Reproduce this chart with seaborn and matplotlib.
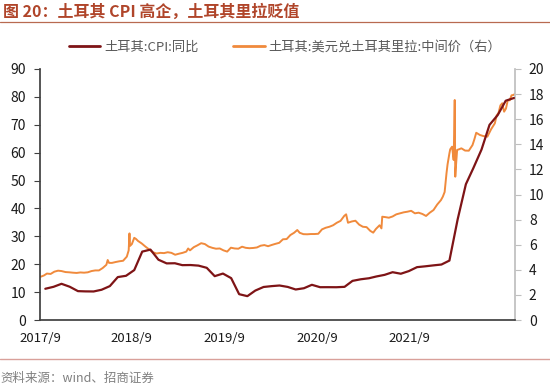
import matplotlib
matplotlib.use('Agg')
import matplotlib.pyplot as plt
import pandas as pd
import seaborn as sns
from matplotlib.lines import Line2D

# Turkey CPI YoY (%), month-end
cpi_dates = pd.date_range('2017-09-30', '2022-07-31', freq='ME')
cpi_values = [11.20, 11.90, 12.98, 11.92,
              10.35, 10.26, 10.23, 10.85, 12.15, 15.39, 15.85, 17.90, 24.52, 25.24, 21.62, 20.30,
              20.35, 19.67, 19.71, 19.50, 18.71, 15.72, 16.65, 15.01, 9.26, 8.55, 10.56, 11.84,
              12.15, 12.37, 11.86, 10.94, 11.39, 12.62, 11.76, 11.77, 11.75, 11.89, 14.03, 14.60,
              14.97, 15.61, 16.19, 17.14, 16.59, 17.53, 18.95, 19.25, 19.58, 19.89, 21.31, 36.08,
              48.69, 54.44, 61.14, 69.97, 73.50, 78.62, 79.60]

# USD/TRY central rate (right axis)
fx_dates = ['2017-09-13', '2017-09-25', '2017-10-06', '2017-10-20', '2017-11-03', '2017-11-17',
            '2017-11-30', '2017-12-15', '2017-12-29', '2018-01-12', '2018-01-26', '2018-02-09',
            '2018-02-23', '2018-03-09', '2018-03-23', '2018-04-06', '2018-04-20', '2018-05-04',
            '2018-05-18', '2018-05-23', '2018-05-28', '2018-06-08', '2018-06-22', '2018-07-06',
            '2018-07-20', '2018-08-03', '2018-08-10', '2018-08-13', '2018-08-15', '2018-08-22',
            '2018-08-31', '2018-09-07', '2018-09-14', '2018-09-28', '2018-10-12', '2018-10-26',
            '2018-11-09', '2018-11-23', '2018-12-07', '2018-12-21', '2019-01-04', '2019-01-18',
            '2019-02-01', '2019-02-15', '2019-03-01', '2019-03-15', '2019-03-22', '2019-03-29',
            '2019-04-12', '2019-04-26', '2019-05-10', '2019-05-24', '2019-06-07', '2019-06-21',
            '2019-07-05', '2019-07-19', '2019-08-02', '2019-08-16', '2019-08-30', '2019-09-13',
            '2019-09-27', '2019-10-11', '2019-10-25', '2019-11-08', '2019-11-22', '2019-12-06',
            '2019-12-20', '2020-01-03', '2020-01-17', '2020-01-31', '2020-02-14', '2020-02-28',
            '2020-03-13', '2020-03-27', '2020-04-10', '2020-04-24', '2020-05-06', '2020-05-15',
            '2020-05-29', '2020-06-12', '2020-06-26', '2020-07-10', '2020-07-24', '2020-08-07',
            '2020-08-21', '2020-09-04', '2020-09-18', '2020-10-02', '2020-10-16', '2020-10-30',
            '2020-11-06', '2020-11-13', '2020-11-27', '2020-12-11', '2020-12-25', '2021-01-08',
            '2021-01-22', '2021-02-05', '2021-02-16', '2021-02-26', '2021-03-12', '2021-03-19',
            '2021-03-22', '2021-04-02', '2021-04-16', '2021-04-30', '2021-05-14', '2021-05-28',
            '2021-06-11', '2021-06-25', '2021-07-09', '2021-07-23', '2021-08-06', '2021-08-20',
            '2021-09-03', '2021-09-17', '2021-10-01', '2021-10-15', '2021-10-29', '2021-11-05',
            '2021-11-12', '2021-11-19', '2021-11-23', '2021-11-30', '2021-12-03', '2021-12-10',
            '2021-12-16', '2021-12-20', '2021-12-22', '2021-12-24', '2021-12-29', '2022-01-05',
            '2022-01-14', '2022-01-28', '2022-02-11', '2022-02-25', '2022-03-04', '2022-03-11',
            '2022-03-25', '2022-04-08', '2022-04-22', '2022-05-06', '2022-05-20', '2022-05-27',
            '2022-06-03', '2022-06-10', '2022-06-17', '2022-06-24', '2022-07-01', '2022-07-08',
            '2022-07-15', '2022-07-22', '2022-07-29', '2022-08-03']
fx_values = [3.45, 3.55, 3.70, 3.67, 3.85, 3.93,
             3.90, 3.82, 3.80, 3.77, 3.75, 3.79,
             3.77, 3.80, 3.90, 3.95, 3.95, 4.14,
             4.40, 4.78, 4.55, 4.55, 4.62, 4.68,
             4.72, 5.05, 5.55, 6.90, 5.90, 6.05,
             6.55, 6.45, 6.30, 6.10, 5.85, 5.62,
             5.40, 5.30, 5.35, 5.33, 5.40, 5.35,
             5.20, 5.28, 5.35, 5.45, 5.70, 5.55,
             5.80, 5.95, 6.12, 6.05, 5.85, 5.75,
             5.68, 5.70, 5.55, 5.45, 5.76, 5.70,
             5.68, 5.84, 5.75, 5.72, 5.74, 5.78,
             5.92, 5.97, 5.88, 5.98, 6.07, 6.15,
             6.43, 6.45, 6.77, 6.95, 7.17, 6.95,
             6.84, 6.83, 6.85, 6.85, 6.87, 7.22,
             7.35, 7.43, 7.55, 7.75, 7.90, 8.30,
             8.42, 7.75, 7.85, 7.91, 7.60, 7.43,
             7.40, 7.10, 6.96, 7.25, 7.55, 7.30,
             8.23, 8.20, 8.15, 8.25, 8.42, 8.50,
             8.58, 8.63, 8.70, 8.50, 8.55, 8.45,
             8.29, 8.55, 8.76, 9.20, 9.55, 9.82,
             10.20, 11.69, 12.40, 13.28, 13.60, 13.81,
             12.75, 17.53, 11.42, 12.10, 13.55, 13.60,
             13.68, 13.50, 13.49, 13.94, 14.40, 14.92,
             14.74, 14.65, 14.61, 15.20, 15.67, 16.30,
             16.50, 17.10, 17.27, 16.60, 16.85, 17.53,
             17.50, 17.90, 17.93, 18.00]

tick_dates = ['2017-09-10', '2018-08-21', '2019-08-04', '2020-07-20', '2021-07-01']
tick_labels = ['2017/9', '2018/9', '2019/9', '2020/9', '2021/9']

cpi_df = pd.DataFrame({'date': cpi_dates, 'cpi': cpi_values})
fx_df = pd.DataFrame({'date': pd.to_datetime(fx_dates), 'fx': fx_values})

sns.set_theme(style='white')
plt.rcParams['font.family'] = ['Noto Sans CJK SC', 'DejaVu Sans']
plt.rcParams['axes.unicode_minus'] = False

cpi_color = '#7E1416'
fx_color = '#F08A3C'

fig = plt.figure(figsize=(5.5, 3.88), dpi=100)
ax = fig.add_axes([40 / 550, 68 / 388, 475 / 550, 251 / 388])
ax2 = ax.twinx()

sns.lineplot(data=cpi_df, x='date', y='cpi', ax=ax, color=cpi_color, linewidth=1.6)
sns.lineplot(data=fx_df, x='date', y='fx', ax=ax2, color=fx_color, linewidth=1.4)
ax.set_zorder(ax2.get_zorder() + 1)
ax.patch.set_visible(False)

ax.set_xlim(pd.Timestamp('2017-09-12'), pd.Timestamp('2022-08-04'))
ax.set_ylim(0, 90)
ax2.set_ylim(0, 20)
ax.set_yticks(range(0, 91, 10))
ax2.set_yticks(range(0, 21, 2))
ax.set_xticks(pd.to_datetime(tick_dates))
ax.set_xticklabels(tick_labels)
ax.set_xlabel('')
ax.set_ylabel('')
ax2.set_ylabel('')

for a in (ax, ax2):
    a.spines['top'].set_visible(False)
    a.grid(False)
ax.spines['left'].set_color('#404040')
ax.spines['bottom'].set_color('#404040')
ax.spines['right'].set_visible(False)
ax2.spines['left'].set_visible(False)
ax2.spines['bottom'].set_visible(False)
ax2.spines['right'].set_color('#BFBFBF')

ax.tick_params(axis='y', which='both', left=True, length=4, width=0.8, color='#404040',
               labelsize=10, labelcolor='#1a1a1a', pad=6)
ax.tick_params(axis='x', bottom=False, labelsize=9.5, labelcolor='#1a1a1a', pad=3)
ax2.tick_params(axis='y', right=True, length=4, width=0.8, color='#BFBFBF',
                labelsize=10, labelcolor='#1a1a1a', pad=6)

handles = [Line2D([], [], color=cpi_color, linewidth=2),
           Line2D([], [], color=fx_color, linewidth=2)]
fig.legend(handles, ['土耳其:CPI:同比', '土耳其:美元兑土耳其里拉:中间价（右）'],
           loc='center', bbox_to_anchor=(285 / 550, 1 - 47 / 388), ncol=2, frameon=False,
           fontsize=9.5, labelcolor='#595959', handlelength=2.4, handletextpad=0.3,
           columnspacing=2.6)

fig.text(3 / 550, 1 - 12 / 388, '图 20：土耳其 CPI 高企，土耳其里拉贬值', fontsize=11.5,
         fontweight='bold', color='#B0452A', va='center', ha='left')
fig.add_artist(Line2D([0, 1], [1 - 21.5 / 388, 1 - 21.5 / 388], color='#B86A50',
                      linewidth=0.9, transform=fig.transFigure))
fig.add_artist(Line2D([0, 1], [1 - 359 / 388, 1 - 359 / 388], color='#D9A09A',
                      linewidth=1.0, transform=fig.transFigure))
fig.text(0, 1 - 378 / 388, '资料来源：wind、招商证券', fontsize=9, color='#808080',
         va='center', ha='left')

fig.savefig('out.png', dpi=100)
